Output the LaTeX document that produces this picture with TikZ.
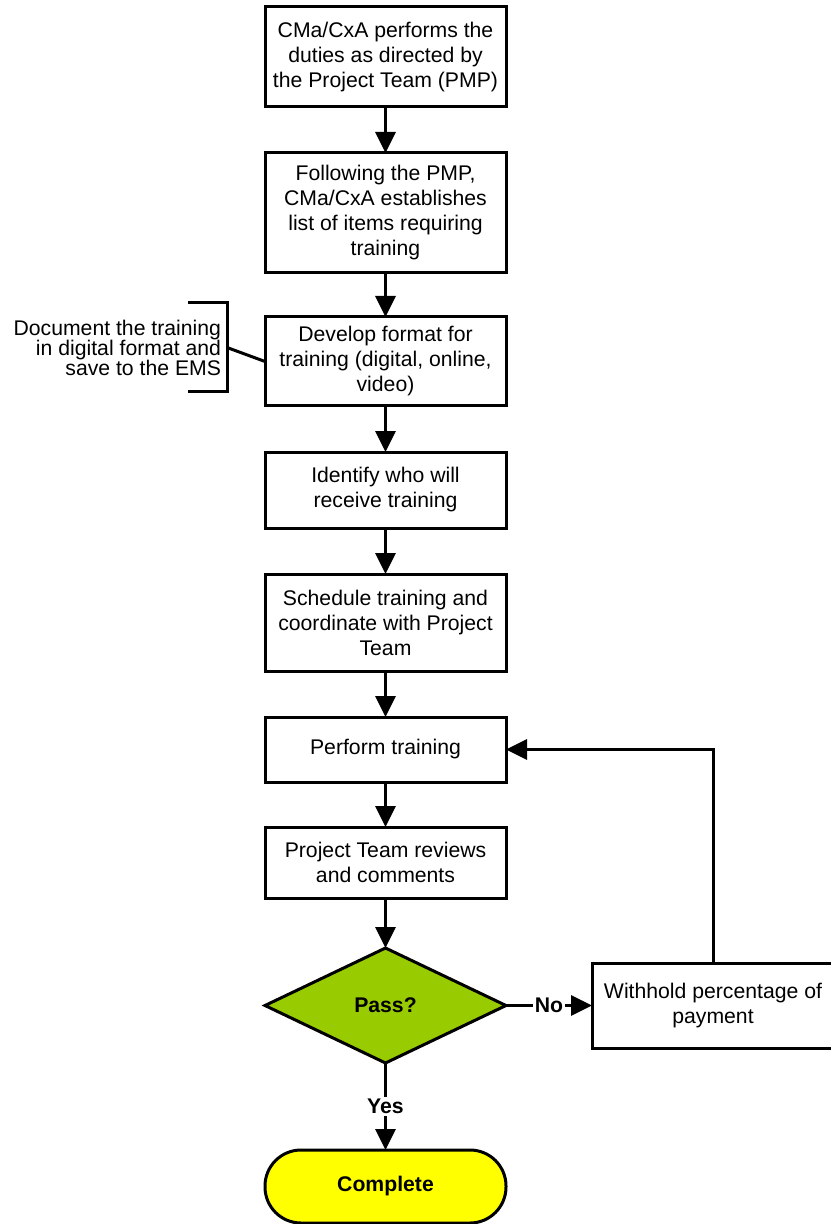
\documentclass[tikz,border=0pt]{standalone}
\usepackage{fontspec}
\setmainfont{Liberation Sans}
\usetikzlibrary{arrows.meta,positioning,shapes.geometric}
\definecolor{pgreen}{RGB}{153,204,0}
\definecolor{pyellow}{RGB}{255,255,0}
\tikzset{
  box/.style  ={rectangle, draw=black, line width=1.5pt, fill=white, align=center,
                minimum width=120.5pt, inner sep=2pt, outer sep=0pt,
                font=\fontsize{10.6}{12.5}\selectfont},
  dec/.style  ={diamond, draw=black, line width=1.5pt, fill=pgreen, minimum width=120.5pt,
                minimum height=57.5pt, inner sep=0pt, outer sep=0pt,
                font=\fontsize{10.6}{12.5}\selectfont\bfseries},
  term/.style ={rectangle, rounded corners=18pt, draw=black, line width=1.5pt, fill=pyellow,
                minimum width=120.5pt, minimum height=36.5pt, outer sep=0pt,
                font=\fontsize{10.6}{12.5}\selectfont\bfseries},
  note/.style ={rectangle, align=right, inner xsep=3pt, inner ysep=0pt, outer sep=0pt,
                minimum height=44.5pt, font=\fontsize{10.6}{10}\selectfont},
  ar/.style   ={-{Triangle[length=10.5pt,width=10pt]}, draw=black, line width=1.5pt},
  brk/.style  ={draw=black, line width=1.5pt},
  lbl/.style  ={fill=white, inner sep=1pt, font=\fontsize{10.6}{12.5}\selectfont\bfseries}
}
\begin{document}
\begin{tikzpicture}[node distance=23pt, x=0.5pt, y=-0.5pt]
\useasboundingbox (0,0) rectangle (830,1224);
\node[box, minimum height=50pt] (duties) at (385.5,57) {CMa/CxA performs the\\duties as directed by\\the Project Team (PMP)};
\node[box, below=of duties, minimum height=60pt] (list) {Following the PMP,\\CMa/CxA establishes\\list of items requiring\\training};
\node[box, below=22pt of list, minimum height=44.5pt] (format) {Develop format for\\training (digital, online,\\video)};
\node[box, below=of format, minimum height=38pt] (who) {Identify who will\\receive training};
\node[box, below=of who, minimum height=48.5pt] (sched) {Schedule training and\\coordinate with Project\\Team};
\node[box, below=of sched, minimum height=32.5pt] (perform) {Perform training};
\node[box, below=22.5pt of perform, minimum height=35.5pt] (review) {Project Team reviews\\and comments};
\node[dec, below=25pt of review] (pass) {Pass?};
\node[term, below=43.5pt of pass] (done) {Complete};
\node[box, right=43pt of pass, minimum width=121pt, minimum height=42.5pt] (withhold) {Withhold percentage of\\payment};
\node[note, left=19pt of format, yshift=7pt] (doc) {Document the training\\in digital format and\\save to the EMS};

\draw[ar] (duties) -- (list);
\draw[ar] (list) -- (format);
\draw[ar] (format) -- (who);
\draw[ar] (who) -- (sched);
\draw[ar] (sched) -- (perform);
\draw[ar] (perform) -- (review);
\draw[ar] (review) -- (pass);
\draw[ar] (pass) -- node[lbl] {No} (withhold);
\draw[ar] (pass) -- node[lbl] {Yes} (done);
\draw[ar] (withhold.north) |- (perform.east);

\draw[brk] ([xshift=-19.5pt]doc.north east) -- (doc.north east) -- (doc.south east) -- ++(-19.5pt,0);
\draw[brk] (doc.east) -- (format.west);
\end{tikzpicture}
\end{document}
